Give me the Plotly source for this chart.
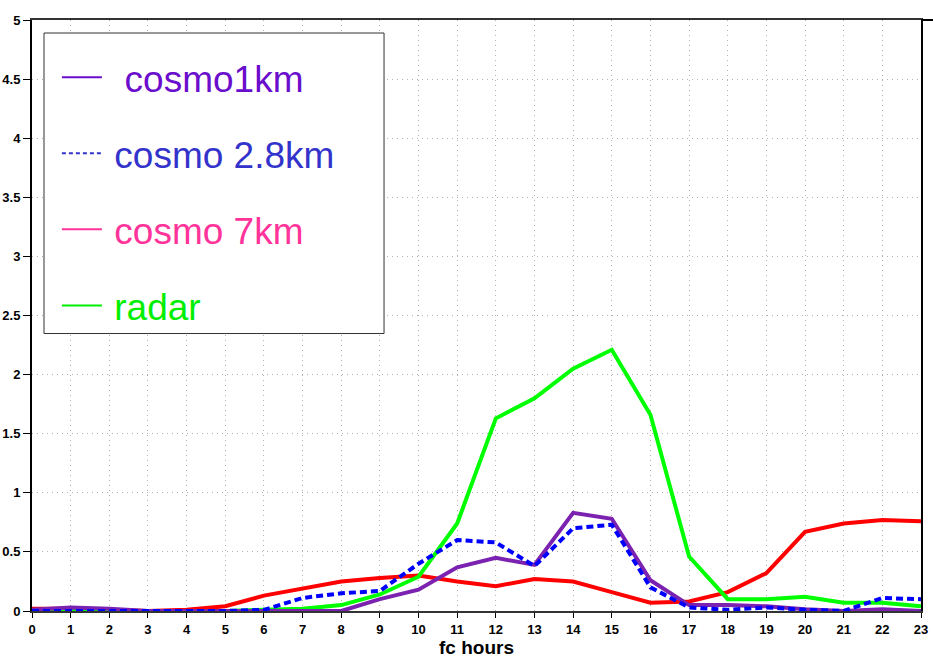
import plotly.graph_objects as go

hours = list(range(24))
cosmo1km = [0.01, 0.03, 0.02, 0.0, 0.0, 0.0, 0.0, 0.0, 0.0, 0.10, 0.18, 0.37,
            0.45, 0.39, 0.83, 0.78, 0.26, 0.05, 0.05, 0.04, 0.015, 0.0, 0.015, 0.0]
cosmo28km = [0.0, 0.0, 0.0, 0.0, 0.0, 0.0, 0.01, 0.11, 0.15, 0.17, 0.40, 0.60,
             0.58, 0.38, 0.70, 0.73, 0.20, 0.03, 0.01, 0.03, 0.01, 0.0, 0.11, 0.10]
cosmo7km = [0.02, 0.02, 0.01, 0.0, 0.01, 0.04, 0.13, 0.19, 0.25, 0.28, 0.30, 0.25,
            0.21, 0.27, 0.25, 0.16, 0.07, 0.08, 0.16, 0.32, 0.67, 0.74, 0.77, 0.76]
radar = [0.0, 0.0, 0.0, 0.0, 0.0, 0.0, 0.01, 0.02, 0.05, 0.14, 0.29, 0.74,
         1.63, 1.80, 2.05, 2.21, 1.66, 0.46, 0.10, 0.10, 0.12, 0.07, 0.07, 0.04]

y_ticks = [0, 0.5, 1, 1.5, 2, 2.5, 3, 3.5, 4, 4.5, 5]
y_tick_labels = ["0", "0.5", "1", "1.5", "2", "2.5", "3", "3.5", "4", "4.5", "5"]

legend_names = ["\u00a0\u2009cosmo1km", "\u2009cosmo 2.8km", "\u2009cosmo 7km", "\u2009radar"]
legend_colors = ["#6A0DCC", "#3333CC", "#FF3399", "#00EE00"]
legend_dash = ["solid", "4px,3px", "solid", "solid"]

fig = go.Figure()

# data lines
fig.add_trace(go.Scatter(x=hours, y=cosmo7km, mode="lines", showlegend=False,
                         line=dict(color="#FF0000", width=4)))
fig.add_trace(go.Scatter(x=hours, y=radar, mode="lines", showlegend=False,
                         line=dict(color="#00FF00", width=4)))
fig.add_trace(go.Scatter(x=hours, y=cosmo1km, mode="lines", showlegend=False,
                         line=dict(color="#7B22B0", width=4)))
fig.add_trace(go.Scatter(x=hours, y=cosmo28km, mode="lines", showlegend=False,
                         line=dict(color="#0000FF", width=4, dash="7px,4px")))

# legend entries
for i, (nm, col, dsh) in enumerate(zip(legend_names, legend_colors, legend_dash)):
    fig.add_trace(go.Scatter(x=[None], y=[None], mode="lines",
                             name=f'<span style="color:{col}">{nm}</span>',
                             legendgroup=f"g{i}",
                             line=dict(color=col, width=2, dash=dsh)))

fig.add_shape(type="rect", xref="paper", yref="paper",
              x0=0.0135, x1=0.396, y0=0.4695, y1=0.978,
              fillcolor="white", line=dict(color="#333333", width=1), layer="above")

# top border extending to the right edge, as in the reference
fig.add_shape(type="line", xref="paper", yref="paper", x0=1, x1=1.014, y0=1, y1=1,
              line=dict(color="black", width=2), layer="above")

fig.update_layout(
    width=933, height=667,
    margin=dict(l=32, r=12, t=20, b=56),
    paper_bgcolor="white", plot_bgcolor="white",
    font=dict(family="Liberation Sans, Arial, sans-serif", color="black"),
    showlegend=True,
    legend=dict(x=0.028, y=0.955, xanchor="left", yanchor="top",
                bgcolor="rgba(0,0,0,0)", borderwidth=0,
                font=dict(size=37, family="Liberation Sans, Arial, sans-serif"),
                tracegroupgap=25, traceorder="grouped", itemwidth=40),
    xaxis=dict(range=[0, 23], tickmode="array", tickvals=hours,
               ticktext=[str(h) for h in hours], automargin=False,
               tickfont=dict(size=13, family="Liberation Sans, Arial, sans-serif", weight="bold"),
               ticks="outside", ticklen=5, tickcolor="black",
               showline=True, linecolor="#333333", linewidth=2, mirror=True,
               showgrid=True, gridcolor="#b0b0b0", griddash="1px,4px", gridwidth=1,
               zeroline=False,
               title=dict(text="<b>fc hours</b>", font=dict(size=19), standoff=4)),
    yaxis=dict(range=[0, 5], tickmode="array", tickvals=y_ticks, ticktext=y_tick_labels,
               automargin=False,
               tickfont=dict(size=13, family="Liberation Sans, Arial, sans-serif", weight="bold"),
               ticks="outside", ticklen=7, tickcolor="black",
               showline=True, linecolor="black", linewidth=2, mirror=True,
               showgrid=True, gridcolor="#b0b0b0", griddash="1px,4px", gridwidth=1,
               zeroline=False),
)

fig.write_html("out.html")
